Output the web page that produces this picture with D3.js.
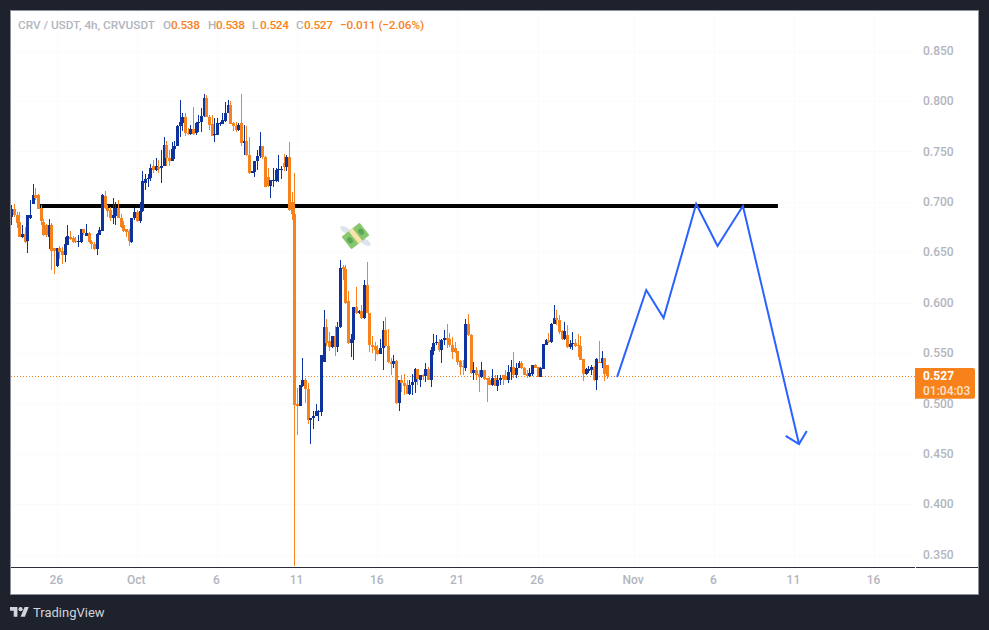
<!DOCTYPE html>
<html><head><meta charset="utf-8">
<style>html,body{margin:0;padding:0;background:#1e222d;overflow:hidden}svg{display:block}
text{font-family:Roboto,sans-serif}</style>
<script src="https://cdn.jsdelivr.net/npm/d3@7"></script></head>
<body><svg id="c" width="989" height="630"></svg>
<script>
const opens=[.685,.693,.687,.680,.665,.668,.661,.684,.698,.707,
.707,.694,.680,.677,.665,.677,.654,.636,.654,.651,
.647,.657,.665,.664,.661,.660,.660,.673,.666,.669,
.660,.658,.653,.667,.671,.706,.694,.692,.684,.686,
.694,.684,.677,.673,.671,.660,.684,.690,.681,.691,
.719,.723,.724,.735,.731,.734,.733,.735,.756,.743,
.740,.752,.755,.775,.778,.784,.768,.767,.772,.768,
.778,.779,.785,.803,.784,.777,.766,.766,.777,.777,
.780,.788,.796,.778,.775,.771,.778,.758,.760,.746,
.728,.729,.740,.745,.755,.744,.725,.716,.721,.721,
.731,.731,.738,.734,.744,.700,.688,.499,.497,.517,
.523,.514,.483,.485,.487,.491,.491,.541,.576,.562,
.556,.567,.556,.576,.635,.633,.601,.560,.563,.596,
.590,.592,.585,.617,.590,.558,.557,.553,.549,.555,
.573,.557,.541,.539,.542,.500,.523,.520,.518,.509,
.518,.521,.534,.523,.528,.527,.534,.523,.552,.560,
.561,.553,.563,.565,.564,.558,.555,.552,.542,.537,
.535,.579,.568,.530,.533,.529,.526,.533,.525,.523,
.518,.525,.517,.523,.528,.527,.523,.531,.536,.528,
.535,.540,.535,.529,.527,.529,.538,.536,.526,.534,
.558,.563,.561,.579,.585,.583,.572,.564,.568,.556,
.559,.560,.558,.557,.544,.529,.532,.533,.536,.523,
.541,.540,.545,.538];
const highs=[.697,.698,.690,.690,.677,.675,.687,.702,.718,.714,
.708,.697,.683,.678,.683,.679,.654,.654,.656,.655,
.665,.677,.671,.666,.665,.667,.673,.673,.678,.670,
.662,.660,.669,.675,.708,.711,.697,.695,.704,.700,
.702,.688,.681,.673,.673,.684,.694,.692,.700,.730,
.727,.727,.737,.741,.743,.741,.751,.764,.760,.751,
.759,.760,.776,.801,.788,.788,.773,.776,.794,.779,
.786,.793,.807,.806,.786,.786,.783,.783,.779,.788,
.799,.801,.800,.779,.779,.778,.807,.776,.775,.764,
.730,.740,.751,.769,.755,.745,.733,.722,.733,.733,
.746,.735,.747,.746,.759,.710,.728,.515,.518,.545,
.525,.520,.485,.492,.499,.493,.548,.593,.584,.571,
.567,.577,.581,.642,.637,.637,.611,.569,.596,.615,
.593,.598,.622,.640,.590,.567,.561,.558,.564,.582,
.586,.574,.545,.548,.543,.523,.528,.529,.523,.523,
.529,.535,.534,.528,.529,.540,.536,.556,.569,.568,
.564,.564,.573,.579,.570,.566,.561,.552,.543,.543,
.584,.589,.569,.541,.536,.533,.541,.533,.525,.526,
.534,.528,.528,.528,.528,.533,.538,.543,.551,.540,
.542,.542,.536,.533,.535,.538,.539,.536,.536,.559,
.564,.570,.580,.598,.593,.588,.573,.581,.578,.563,
.571,.564,.569,.567,.544,.535,.537,.538,.537,.545,
.562,.552,.545,.538];
const lows=[.677,.685,.674,.665,.664,.659,.649,.683,.698,.702,
.693,.677,.666,.665,.653,.632,.628,.635,.643,.638,
.640,.657,.662,.659,.659,.655,.659,.667,.666,.659,
.653,.652,.647,.667,.671,.693,.685,.681,.678,.677,
.684,.674,.670,.665,.656,.659,.682,.680,.679,.690,
.712,.715,.721,.728,.730,.728,.719,.735,.735,.735,
.740,.742,.755,.764,.770,.765,.766,.766,.766,.766,
.769,.769,.784,.784,.771,.765,.759,.766,.775,.777,
.779,.788,.777,.770,.769,.770,.755,.746,.745,.727,
.728,.725,.731,.743,.742,.715,.715,.704,.715,.720,
.720,.723,.730,.730,.691,.682,.339,.469,.497,.516,
.500,.479,.460,.475,.487,.482,.487,.541,.557,.552,
.555,.547,.551,.575,.622,.599,.559,.546,.543,.589,
.589,.584,.584,.590,.551,.550,.542,.548,.549,.533,
.556,.540,.528,.535,.499,.492,.511,.508,.509,.508,
.508,.510,.518,.516,.523,.521,.523,.516,.548,.558,
.551,.540,.558,.555,.556,.544,.550,.538,.528,.528,
.532,.567,.529,.523,.523,.511,.525,.523,.501,.518,
.517,.517,.512,.518,.518,.523,.520,.523,.525,.525,
.535,.534,.528,.525,.526,.527,.535,.526,.526,.534,
.558,.560,.560,.579,.578,.569,.563,.563,.555,.554,
.553,.556,.546,.543,.522,.528,.530,.528,.522,.513,
.540,.535,.522,.524];
const closes=[.693,.687,.679,.665,.668,.660,.687,.687,.707,.704,
.693,.681,.667,.667,.677,.651,.651,.654,.650,.647,
.658,.666,.663,.660,.660,.661,.673,.669,.669,.660,
.658,.653,.668,.672,.707,.694,.691,.684,.687,.694,
.684,.675,.671,.670,.661,.684,.690,.681,.691,.721,
.723,.724,.733,.731,.735,.732,.735,.756,.743,.740,
.752,.755,.775,.779,.784,.768,.767,.772,.767,.778,
.779,.785,.803,.784,.776,.765,.767,.778,.778,.781,
.788,.796,.777,.775,.771,.776,.758,.760,.746,.728,
.730,.740,.745,.755,.744,.715,.716,.722,.722,.731,
.732,.732,.734,.744,.692,.688,.498,.497,.518,.523,
.514,.483,.485,.487,.492,.492,.548,.576,.560,.556,
.567,.556,.576,.634,.633,.600,.560,.564,.596,.590,
.592,.585,.617,.590,.558,.556,.553,.549,.555,.573,
.557,.541,.539,.542,.500,.523,.520,.517,.509,.518,
.521,.534,.524,.528,.527,.534,.523,.553,.560,.561,
.553,.563,.565,.563,.558,.551,.551,.541,.536,.536,
.579,.568,.530,.533,.528,.526,.533,.524,.523,.518,
.525,.517,.523,.525,.524,.523,.531,.536,.528,.535,
.540,.535,.528,.527,.530,.538,.535,.526,.535,.559,
.563,.561,.579,.585,.583,.571,.564,.572,.556,.559,
.560,.557,.557,.543,.529,.534,.534,.536,.523,.544,
.540,.545,.529,.527];

const firstBar=Date.UTC(2025,8,23,4), barMs=4*3600e3;
const priceTicks=[.35,.40,.45,.50,.55,.60,.65,.70,.75,.80,.85];
const timeTickDates=[[8,26],[9,1],[9,6],[9,11],[9,16],[9,21],[9,26],[10,1],[10,6],[10,11],[10,16]];
const timeTickLabels=["26","Oct","6","11","16","21","26","Nov","6","11","16"];
const lastPrice=.527, levelPrice=.6957;
const levelBars=[10.5,287];
const pathBars=[226.8,237.7,244.2,256.4,264.4,273.9,294.9];
const pathPrices=[.526,.6124,.5846,.6977,.656,.6957,.4596];
const headBars=[289.9,294.9,297.8];
const headPrices=[.4676,.4596,.4726];
const ohlc=[["O","0.538",163,171],["H","0.538",208,216],["L","0.524",252,260],["C","0.527",296,304]];

const UP="#0f339c",DOWN="#f7821b",GREY="#b2b5be",INK="#2a2e39";
const svg=d3.select("#c");
svg.append("rect").attr("width",989).attr("height",630).attr("fill","#1e222d");
svg.append("rect").attr("x",10.5).attr("y",10.5).attr("width",968).attr("height",584).attr("fill","#fff").attr("stroke","#8d9099").attr("stroke-width",1);

const x=d3.scaleUtc().domain([firstBar,firstBar+339*barMs]).range([11.3,916.8]);
const y=d3.scaleLinear().domain([.35,.85]).range([554.5,50.5]);
const xb=i=>x(firstBar+i*barMs);
const defs=svg.append("defs");
defs.append("clipPath").attr("id","plot").append("rect").attr("x",11).attr("y",11).attr("width",904).attr("height",556);
const plot=svg.append("g").attr("clip-path","url(#plot)");

const tickTimes=timeTickDates.map(d=>Date.UTC(2025,d[0],d[1]));
plot.append("g").selectAll("line").data(tickTimes).join("line")
 .attr("x1",d=>Math.round(x(d))+.5).attr("x2",d=>Math.round(x(d))+.5).attr("y1",11).attr("y2",567).attr("stroke","#fbfbfc");
plot.append("g").selectAll("line").data(priceTicks).join("line")
 .attr("x1",11).attr("x2",915).attr("y1",d=>Math.round(y(d))+.5).attr("y2",d=>Math.round(y(d))+.5).attr("stroke","#fbfbfc");

plot.append("line").attr("x1",xb(levelBars[0])).attr("x2",xb(levelBars[1])).attr("y1",y(levelPrice)).attr("y2",y(levelPrice))
 .attr("stroke","#000").attr("stroke-width",4);
plot.append("line").attr("x1",11).attr("x2",915).attr("y1",Math.round(y(lastPrice))+.5).attr("y2",Math.round(y(lastPrice))+.5)
 .attr("stroke",DOWN).attr("stroke-width",1).attr("stroke-dasharray","1 2");

const idx=d3.range(closes.length);
const col=i=>closes[i]>=opens[i]?UP:DOWN;
const cg=plot.append("g").attr("shape-rendering","crispEdges");
cg.selectAll("rect.w").data(idx).join("rect").attr("class","w")
 .attr("x",i=>Math.round(xb(i))).attr("width",1)
 .attr("y",i=>y(highs[i])).attr("height",i=>y(lows[i])-y(highs[i])).attr("fill",col);
cg.selectAll("rect.b").data(idx).join("rect").attr("class","b")
 .attr("x",i=>Math.round(xb(i))-1).attr("width",3)
 .attr("y",i=>y(Math.max(opens[i],closes[i])))
 .attr("height",i=>Math.max(1,Math.abs(y(opens[i])-y(closes[i])))).attr("fill",col);

const line=d3.line().x(d=>xb(d[0])).y(d=>y(d[1]));
plot.append("path").attr("d",line(pathBars.map((b,i)=>[b,pathPrices[i]]))).attr("fill","none").attr("stroke","#2962ff").attr("stroke-width",2);
plot.append("path").attr("d",line(headBars.map((b,i)=>[b,headPrices[i]]))).attr("fill","none").attr("stroke","#2962ff").attr("stroke-width",2);

// money-with-wings sticker
const m=svg.append("g").attr("transform","translate(355.5,236) rotate(-38)");
m.append("ellipse").attr("cx",-4).attr("cy",-10.5).attr("rx",6.5).attr("ry",2.8).attr("transform","rotate(70 -4 -10.5)").attr("fill","#dde5ec");
m.append("ellipse").attr("cx",4).attr("cy",10.5).attr("rx",6.5).attr("ry",2.8).attr("transform","rotate(70 4 10.5)").attr("fill","#dde5ec");
m.append("rect").attr("x",-11.5).attr("y",-8).attr("width",23).attr("height",16).attr("rx",1).attr("fill","#87c76e");
m.append("ellipse").attr("cx",-7).attr("cy",0).attr("rx",2.6).attr("ry",3.4).attr("fill","#5da657");
m.append("ellipse").attr("cx",7).attr("cy",0).attr("rx",2.6).attr("ry",3.4).attr("fill","#5da657");
m.append("rect").attr("x",-2.5).attr("y",-8).attr("width",5).attr("height",16).attr("fill","#fae2ab");

// axes
svg.append("line").attr("x1",11).attr("x2",915).attr("y1",567.5).attr("y2",567.5).attr("stroke",INK);
svg.append("line").attr("x1",916).attr("x2",978).attr("y1",567.5).attr("y2",567.5).attr("stroke",INK);
const ax=d3.axisBottom(x).tickValues(tickTimes).tickSize(0).tickPadding(0).tickFormat((d,i)=>timeTickLabels[i]);
const gx=svg.append("g").attr("transform","translate(-1,575)").call(ax);
gx.select(".domain").remove();
gx.selectAll("text").attr("fill",GREY).attr("font-size",12).attr("font-family","Roboto,sans-serif").attr("font-weight",500);
const ay=d3.axisRight(y).tickValues(priceTicks).tickSize(0).tickPadding(0).tickFormat(d3.format(".3f"));
const gy=svg.append("g").attr("transform","translate(923,0)").call(ay);
gy.select(".domain").remove();
gy.selectAll("text").attr("fill",GREY).attr("font-size",12).attr("font-family","Roboto,sans-serif").attr("font-weight",500);

// last price tag
svg.append("path").attr("d","M915 368H973a2 2 0 0 1 2 2V396.7a2 2 0 0 1 -2 2H915Z").attr("fill",DOWN);
svg.append("text").attr("x",923).attr("y",y(lastPrice)+4).attr("fill","#fff").attr("font-size",12).attr("font-weight",700).text(d3.format(".3f")(lastPrice));
svg.append("text").attr("x",923).attr("y",395).attr("fill","#fde3cc").attr("font-size",12).attr("font-weight",500).text("01:04:03");

// header
const H=svg.append("g").attr("font-size",11.8).attr("font-weight",500);
H.append("text").attr("x",18).attr("y",29).attr("fill",GREY).attr("textLength",137).text("CRV / USDT, 4h, CRVUSDT");
ohlc.forEach(d=>{
 H.append("text").attr("x",d[2]).attr("y",29).attr("fill",GREY).text(d[0]);
 H.append("text").attr("x",d[3]).attr("y",29).attr("fill",DOWN).attr("textLength",29).text(d[1]);
});
H.append("text").attr("x",340).attr("y",29).attr("fill",DOWN).attr("textLength",84).text("−0.011 (−2.06%)");

// footer logo
const L=svg.append("g").attr("transform","translate(10,605) scale(.53)").attr("fill","#d1d4dc");
L.append("path").attr("d","M14 22H7V11H0V4h14v18zM28 22h-8l7.5-18h8L28 22z");
L.append("circle").attr("cx",20).attr("cy",8).attr("r",4);
svg.append("text").attr("x",33).attr("y",617).attr("fill","#d1d4dc").attr("font-size",13).text("TradingView");
</script></body></html>
